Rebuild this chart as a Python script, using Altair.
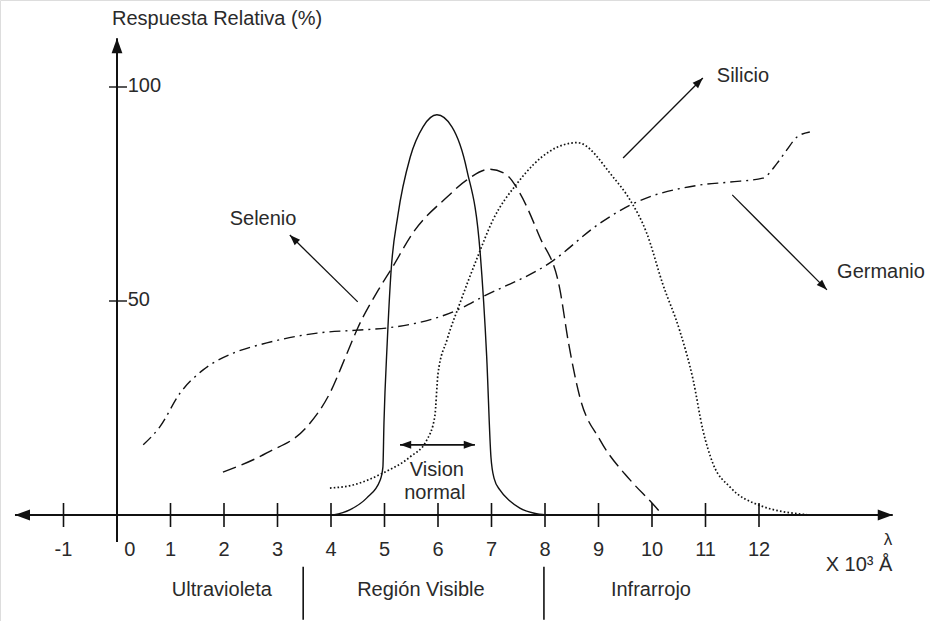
import math
import altair as alt
import pandas as pd

# ---- spectral response curves (x in 10^3 Å, y in % relative response) ----
ojo_x = [4.04, 4.35, 4.67, 4.92, 4.97, 4.99, 5.05, 5.12, 5.25, 5.48, 5.72, 5.98,
         6.26, 6.54, 6.79, 6.91, 6.99, 7.05, 7.16, 7.35, 7.53, 7.8, 8.02]
ojo_y = [0, 1.2, 4, 8.2, 11.2, 21.5, 40, 56.5, 70, 83.6, 90.7, 93.5,
         90.7, 80.6, 61, 37, 13.5, 8.5, 5.8, 3.2, 1.6, 0.4, 0]

selenio_x = [1.98, 2.8, 3.55, 3.98, 4.3, 4.5, 4.92, 5.14, 5.53, 6.17, 6.54, 6.97,
             7.29, 7.53, 7.9, 8.28, 8.43, 8.65, 9.03, 9.59, 10.0, 10.2]
selenio_y = [10, 14.5, 20.6, 28.5, 37.8, 43.7, 53.3, 57.7, 65.9, 74.3, 78.3, 80.8,
             79.4, 75.2, 65, 52.6, 40.9, 27.6, 17.5, 8.2, 2.8, 0]

silicio_x = [3.98, 4.41, 4.97, 5.48, 5.79, 5.94, 6.0, 6.17, 6.41, 6.73, 7.03, 7.48,
             8.09, 8.6, 9.27, 9.59, 9.9, 10.2, 10.52, 10.77, 10.95, 11.14, 11.46,
             12.0, 12.95]
silicio_y = [6.3, 7, 9.8, 13.6, 17.5, 23, 33, 41, 49.5, 60, 69, 77.5,
             85, 87, 79, 73.6, 65.9, 54, 43, 31.5, 19.9, 12, 6.5,
             2.3, 0]

germanio_x = [0.49, 0.8, 1.18, 1.61, 2.17, 2.8, 3.74, 4.49, 5.05, 6.36, 6.84, 8.09,
              9.03, 9.59, 10.84, 11.46, 12.07, 12.34, 12.52, 12.71, 12.95]
germanio_y = [16.4, 20.6, 28.5, 33.9, 37.8, 40.2, 42.5, 43.2, 43.7, 47.9, 51, 58.9,
              68.2, 72.4, 77, 77.8, 78.7, 82.2, 85.3, 88.3, 89.5]

# ---- axis ticks and labels ----
x_ticks = [-1, 0, 1, 2, 3, 4, 5, 6, 7, 8, 9, 10, 11, 12]
x_tick_labels = ["-1", "0", "1", "2", "3", "4", "5", "6", "7", "8", "9", "10", "11", "12"]
y_ticks = [50, 100]
y_tick_labels = ["50", "100"]

# spectral regions along the bottom
region_names = ["Ultravioleta", "Región Visible", "Infrarrojo"]
region_centers = [1.96, 5.68, 9.98]
region_bounds = [3.48, 7.98]

# curve names with their pointer arrows (tail -> tip)
ann_text = ["Selenio", "Silicio", "Germanio"]
ann_text_x = [2.73, 11.7, 14.28]
ann_text_y = [69.2, 102.6, 56.8]
ann_tail_x = [4.5, 9.46, 11.5]
ann_tail_y = [49.8, 83.4, 74.8]
ann_tip_x = [3.23, 10.95, 13.27]
ann_tip_y = [65.4, 102.1, 52.6]

# "Vision normal" range
vision_lo, vision_hi, vision_level = 5.29, 6.69, 16.4

# ---- layout ----
W, H = 930, 621
PX_X = 53.5   # pixels per x unit
PX_Y = 4.28   # pixels per y unit
ORIGIN_PX = (117, 515)
x_dom = [-ORIGIN_PX[0] / PX_X, (W - ORIGIN_PX[0]) / PX_X]
y_dom = [(ORIGIN_PX[1] - H) / PX_Y, ORIGIN_PX[1] / PX_Y]

xs = alt.Scale(domain=x_dom, nice=False, zero=False)
ys = alt.Scale(domain=y_dom, nice=False, zero=False)
INK = "#111111"
TXT = "#2a2a2a"
FONT = "Liberation Sans"
FS = 20

def X(f="x"):
    return alt.X(f"{f}:Q", scale=xs, axis=None)

def Y(f="y"):
    return alt.Y(f"{f}:Q", scale=ys, axis=None)

def angle_of(dx, dy):
    # clockwise screen angle from "up" for a data-space direction
    return math.degrees(math.atan2(dx * PX_X, dy * PX_Y)) % 360

ARROW = "M0,0L-0.36,1L0.36,1Z"

def heads(xs_, ys_, angs, size):
    df = pd.DataFrame({"x": xs_, "y": ys_, "ang": angs})
    return alt.Chart(df).mark_point(shape=ARROW, filled=True, color=INK, opacity=1,
                                    size=size, strokeWidth=0).encode(
        x=X(), y=Y(), angle=alt.Angle("ang:Q", scale=None))

def curve(xv, yv, dash, width=1.4):
    df = pd.DataFrame({"x": xv, "y": yv})
    kw = dict(color=INK, strokeWidth=width, interpolate="monotone")
    if dash:
        kw["strokeDash"] = dash
    return alt.Chart(df).mark_line(**kw).encode(x=X(), y=Y())

def segs(x1, y1, x2, y2, width=1.3):
    df = pd.DataFrame({"x": x1, "y": y1, "x2": x2, "y2": y2})
    return alt.Chart(df).mark_rule(color=INK, strokeWidth=width).encode(
        x=X(), y=Y(), x2="x2:Q", y2="y2:Q")

def texts(xv, yv, tv, align="center", size=FS):
    df = pd.DataFrame({"x": xv, "y": yv, "t": tv})
    return alt.Chart(df).mark_text(font=FONT, fontSize=size, color=TXT,
                                   align=align, baseline="middle").encode(
        x=X(), y=Y(), text="t:N")

layers = []

# axes
x_left, x_right = -1.907, 14.5
y_bottom, y_top = -6.3, 111.4
layers.append(segs([x_left, 0], [0, y_bottom], [x_right, 0], [0, y_top], width=2))
layers.append(heads([x_left, x_right, 0], [0, 0, y_top],
                    [270, 90, 0], 900))
tick_df = pd.DataFrame({"x": x_ticks})
layers.append(alt.Chart(tick_df).mark_rule(color=INK, strokeWidth=1.6).encode(
    x=X(), y=alt.value(ORIGIN_PX[1] - 12), y2=alt.value(ORIGIN_PX[1] + 12)))
ytick_df = pd.DataFrame({"y": y_ticks})
layers.append(alt.Chart(ytick_df).mark_rule(color=INK, strokeWidth=1.4).encode(
    y=Y(), x=alt.value(ORIGIN_PX[0] - 8), x2=alt.value(ORIGIN_PX[0] + 10)))

# tick labels (the 0 label sits just right of the vertical axis)
lab_x = [t + (0.24 if t == 0 else 0) for t in x_ticks]
layers.append(texts(lab_x, [-8.2] * len(x_ticks), x_tick_labels))
layers.append(texts([0.2] * len(y_ticks), [v + 0.3 for v in y_ticks], y_tick_labels, align="left"))

# axis titles
layers.append(texts([1.87], [115.8], ["Respuesta Relativa (%)"]))
layers.append(texts([14.41], [-5.8], ["λ"], size=17))
layers.append(texts([13.87], [-11.7], ["X 10³ Å"]))

# regions
layers.append(segs(region_bounds, [-12.1] * 2, region_bounds, [-24.5] * 2, width=1.6))
layers.append(texts(region_centers, [-17.5] * 3, region_names))

# response curves
layers.append(curve(ojo_x, ojo_y, None))
layers.append(curve(selenio_x, selenio_y, [14, 6]))
layers.append(curve(silicio_x, silicio_y, [1.6, 2.2], width=1.7))
layers.append(curve(germanio_x, germanio_y, [11, 5, 2, 5]))

# annotations
layers.append(texts(ann_text_x, ann_text_y, ann_text))
layers.append(segs(ann_tail_x, ann_tail_y, ann_tip_x, ann_tip_y))
angs = [angle_of(tx - sx, ty - sy) for sx, sy, tx, ty in
        zip(ann_tail_x, ann_tail_y, ann_tip_x, ann_tip_y)]
layers.append(heads(ann_tip_x, ann_tip_y, angs, 450))

# vision normal range
layers.append(segs([vision_lo], [vision_level], [vision_hi], [vision_level], width=1.8))
layers.append(heads([vision_lo, vision_hi], [vision_level] * 2, [270, 90], 500))
layers.append(texts([5.98, 5.94], [10.5, 5.1], ["Vision", "normal"]))

chart = alt.layer(*layers).properties(
    width=W, height=H, padding=0, autosize=alt.AutoSizeParams(type="none")
).configure_view(stroke=None).configure(background="white")

chart.save("out.html", embed_options={"renderer": "svg", "actions": False})
